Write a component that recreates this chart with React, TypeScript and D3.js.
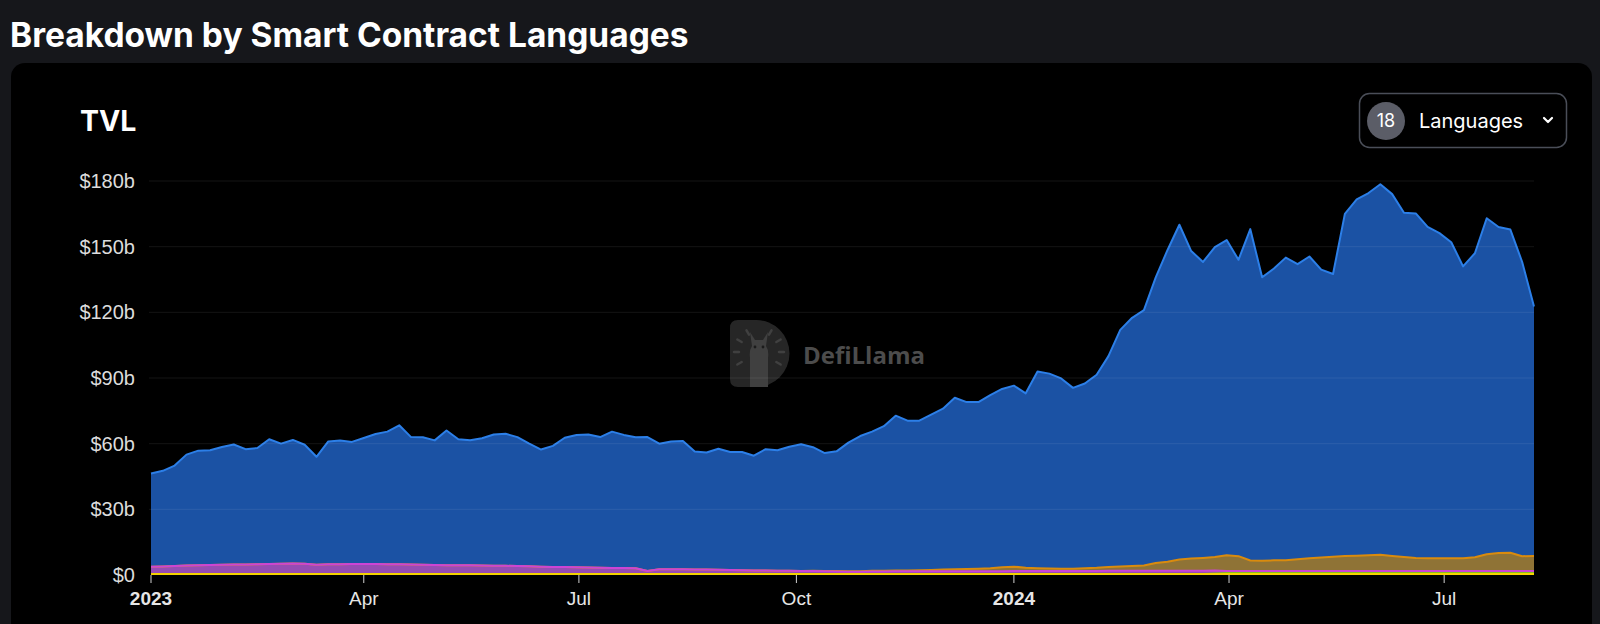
import * as d3 from "d3";
import React from "react";

// TVL by smart contract language, $b, one reading every 5 days from 2023-01-01
const startDate = "2023-01-01";
const stepDays = 5;

const solidity = [
  42.6, 43.7, 45.9, 50.7, 52.3, 52.4, 53.8, 54.8, 52.7, 53.1,
  57.0, 54.9, 56.5, 54.4, 49.3, 56.1, 56.5, 55.8, 57.6, 59.4,
  60.6, 63.5, 58.2, 58.2, 56.9, 61.5, 57.5, 57.2, 58.2, 60.0,
  60.3, 58.9, 56.0, 53.5, 55.3, 59.1, 60.5, 60.8, 59.7, 62.3,
  60.8, 59.8, 61.2, 57.4, 58.4, 58.6, 53.9, 53.5, 55.3, 53.9,
  54.0, 52.4, 55.5, 55.1, 56.7, 57.9, 56.5, 53.9, 54.7, 58.8,
  61.8, 63.6, 66.1, 70.7, 68.4, 68.3, 71.0, 73.5, 78.4, 76.3,
  76.1, 79.1, 81.5, 82.7, 79.7, 89.9, 89.0, 86.9, 82.6, 84.4,
  88.2, 96.3, 108.1, 113.4, 116.7, 130.5, 142.4, 152.9, 140.5, 135.2,
  141.6, 144.0, 135.4, 151.4, 129.5, 133.3, 138.3, 134.8, 137.9, 131.5,
  129.2, 156.3, 162.8, 165.5, 169.3, 165.3, 157.3, 157.4, 151.4, 148.6,
  144.3, 133.4, 138.9, 153.5, 149.0, 147.6, 134.4, 114.0,
];

const rust = [
  0, 0, 0, 0, 0, 0, 0, 0, 0, 0,
  0, 0, 0, 0, 0, 0, 0, 0, 0, 0,
  0, 0, 0, 0, 0, 0, 0, 0, 0, 0,
  0, 0, 0, 0, 0, 0, 0, 0, 0, 0,
  0, 0, 0, 0, 0, 0, 0, 0, 0, 0,
  0, 0, 0, 0, 0, 0, 0.1, 0.1, 0.2, 0.2,
  0.2, 0.3, 0.3, 0.4, 0.4, 0.5, 0.6, 0.8, 0.9, 1.0,
  1.2, 1.4, 1.8, 2.0, 1.5, 1.3, 1.2, 1.1, 1.1, 1.3,
  1.5, 1.8, 2.0, 2.2, 2.4, 3.6, 4.2, 5.2, 5.6, 5.9,
  6.2, 7.2, 6.8, 4.8, 4.7, 4.9, 4.9, 5.4, 5.8, 6.2,
  6.5, 6.9, 7.0, 7.2, 7.4, 6.9, 6.4, 6.0, 5.8, 5.8,
  5.9, 5.8, 6.3, 7.7, 8.2, 8.4, 6.8, 6.9,
];

const vyper = [
  3.3, 3.4, 3.6, 3.8, 4.0, 4.1, 4.2, 4.3, 4.3, 4.4,
  4.5, 4.6, 4.7, 4.6, 4.2, 4.4, 4.4, 4.5, 4.5, 4.5,
  4.4, 4.4, 4.3, 4.2, 4.1, 4.0, 4.0, 3.9, 3.8, 3.7,
  3.7, 3.6, 3.5, 3.3, 3.2, 3.1, 3.0, 2.9, 2.8, 2.7,
  2.7, 2.6, 1.3, 2.1, 2.1, 2.1, 2.0, 2.0, 1.9, 1.8,
  1.7, 1.6, 1.5, 1.4, 1.4, 1.3, 1.3, 1.2, 1.1, 1.0,
  1.0, 1.1, 1.1, 1.2, 1.2, 1.2, 1.2, 1.2, 1.2, 1.2,
  1.2, 1.2, 1.2, 1.3, 1.3, 1.3, 1.3, 1.3, 1.3, 1.3,
  1.3, 1.4, 1.4, 1.4, 1.4, 1.4, 1.4, 1.4, 1.4, 1.4,
  1.3, 0.9, 0.9, 0.9, 0.9, 0.9, 0.9, 0.9, 0.9, 0.9,
  0.9, 0.9, 0.9, 0.9, 0.9, 0.9, 0.9, 0.9, 0.9, 0.9,
  0.9, 0.9, 0.9, 0.9, 0.9, 0.9, 0.9, 0.9,
];

const move = [
  0, 0, 0, 0, 0, 0, 0, 0, 0, 0,
  0, 0, 0, 0, 0, 0, 0, 0, 0, 0,
  0, 0, 0, 0, 0, 0, 0, 0, 0, 0,
  0, 0, 0, 0, 0, 0, 0, 0, 0, 0,
  0, 0, 0, 0, 0, 0, 0, 0, 0, 0,
  0, 0, 0, 0, 0, 0, 0, 0, 0, 0,
  0, 0, 0, 0, 0, 0, 0, 0, 0, 0,
  0, 0, 0, 0, 0, 0, 0, 0, 0, 0,
  0, 0, 0, 0, 0, 0, 0, 0, 0, 0,
  0.2, 0.4, 0.4, 0.4, 0.4, 0.4, 0.4, 0.4, 0.4, 0.4,
  0.4, 0.4, 0.4, 0.4, 0.4, 0.4, 0.4, 0.4, 0.4, 0.4,
  0.4, 0.4, 0.4, 0.4, 0.4, 0.4, 0.4, 0.4,
];

const goLang = [
  0.5, 0.5, 0.5, 0.5, 0.5, 0.5, 0.5, 0.5, 0.5, 0.5,
  0.5, 0.5, 0.5, 0.5, 0.5, 0.5, 0.5, 0.5, 0.5, 0.5,
  0.5, 0.5, 0.5, 0.5, 0.5, 0.5, 0.5, 0.5, 0.5, 0.5,
  0.5, 0.5, 0.5, 0.5, 0.5, 0.5, 0.5, 0.5, 0.5, 0.5,
  0.5, 0.5, 0.5, 0.5, 0.5, 0.5, 0.5, 0.5, 0.5, 0.5,
  0.5, 0.5, 0.5, 0.5, 0.5, 0.5, 0.5, 0.5, 0.5, 0.5,
  0.5, 0.5, 0.5, 0.5, 0.5, 0.5, 0.5, 0.5, 0.5, 0.5,
  0.5, 0.5, 0.5, 0.5, 0.5, 0.5, 0.5, 0.5, 0.5, 0.5,
  0.5, 0.5, 0.5, 0.5, 0.5, 0.5, 0.5, 0.5, 0.5, 0.5,
  0.5, 0.5, 0.5, 0.5, 0.5, 0.5, 0.5, 0.5, 0.5, 0.5,
  0.5, 0.5, 0.5, 0.5, 0.5, 0.5, 0.5, 0.5, 0.5, 0.5,
  0.5, 0.5, 0.5, 0.5, 0.5, 0.5, 0.5, 0.5,
];

const languageKeys = ["Go", "Move", "Vyper", "Rust", "Solidity"];
const yTicks = [0, 30, 60, 90, 120, 150, 180];
const languageCount = 18;

const colors: Record<string, { fill: string; stroke: string }> = {
  Solidity: { fill: "#1b52a4", stroke: "#2c7fe8" },
  Rust: { fill: "#8f7336", stroke: "#d98b0e" },
  Vyper: { fill: "#964cb4", stroke: "#cc44d6" },
  Move: { fill: "#6a8a22", stroke: "#86c21c" },
  Go: { fill: "#c8aa08", stroke: "#f5d300" },
};

const uiFont = "Inter, 'Noto Sans', sans-serif";
const axisFont = "'Liberation Sans', Arial, sans-serif";

export default function App() {
  const width = 1600;
  const height = 624;
  const plot = { left: 151, right: 1534, top: 181, bottom: 575 };

  const dates = solidity.map((_, i) =>
    d3.utcDay.offset(new Date(startDate), i * stepDays)
  );
  const rows = dates.map((date, i) => ({
    date,
    Go: goLang[i],
    Move: move[i],
    Vyper: vyper[i],
    Rust: rust[i],
    Solidity: solidity[i],
  }));

  const stacked = d3.stack<any>().keys(languageKeys)(rows);

  const x = d3
    .scaleUtc()
    .domain(d3.extent(dates) as [Date, Date])
    .range([plot.left, plot.right]);
  const y = d3.scaleLinear().domain([0, 180]).range([plot.bottom, plot.top]);

  const area = d3
    .area<any>()
    .x((d) => x(d.data.date))
    .y0((d) => y(d[0]))
    .y1((d) => y(d[1]));
  const topLine = d3
    .line<any>()
    .x((d) => x(d.data.date))
    .y((d) => y(d[1]));

  const xTicks = x.ticks(d3.utcMonth.every(3) as any);

  return (
    <div style={{ position: "fixed", left: 0, top: 0 }}>
      <svg width={width} height={height} style={{ display: "block" }}>
        <rect width={width} height={height} fill="#16171b" />
        <text x={10} y={47} fill="#ffffff" fontFamily={uiFont} fontWeight={700} fontSize={33.5}>
          Breakdown by Smart Contract Languages
        </text>

        {/* card */}
        <rect x={11} y={63} width={1581} height={620} rx={14} fill="#000000" />
        <text x={80} y={131} fill="#ffffff" fontFamily={uiFont} fontWeight={700} fontSize={28.5}>
          TVL
        </text>

        {/* languages dropdown */}
        <rect x={1359.5} y={93.5} width={207} height={54} rx={10} fill="none" stroke="#4a4e58" strokeWidth={1.5} />
        <circle cx={1386} cy={121} r={19} fill="#5b5d67" />
        <text x={1386} y={127} textAnchor="middle" fill="#ffffff" fontFamily={uiFont} fontSize={18}>
          {languageCount}
        </text>
        <text x={1419} y={128} fill="#ffffff" fontFamily={uiFont} fontSize={20}>
          Languages
        </text>
        <path d="M1544,118 L1548,122 L1552,118" fill="none" stroke="#ffffff" strokeWidth={2.2} strokeLinecap="round" strokeLinejoin="round" />

        {/* watermark */}
        <g transform="translate(730,320)" opacity={0.9}>
          <path d="M0,8 Q0,0 8,0 H26 A33.5,33.5 0 0 1 26,67 H8 Q0,67 0,59 Z" fill="#2b2b2b" />
          <path d="M20,67 V38 Q19,30 22,26 L20,12 L25,20 H33 L38,12 L36,26 Q39,30 38,38 V67 Z" fill="#474747" />
          <circle cx={25} cy={27} r={1.4} fill="#1e1e1e" />
          <circle cx={33} cy={27} r={1.4} fill="#1e1e1e" />
          {[-150, -120, -60, -30, 180, 0, 150, 30].map((a) => {
            const r = (a * Math.PI) / 180;
            return (
              <line key={a} x1={29 + Math.cos(r) * 20} y1={32 + Math.sin(r) * 20}
                x2={29 + Math.cos(r) * 25} y2={32 + Math.sin(r) * 25}
                stroke="#474747" strokeWidth={2.5} strokeLinecap="round" />
            );
          })}
        </g>
        <text x={803} y={364} fill="#4c4c4c" fontFamily="'Open Sans', sans-serif" fontWeight={700} fontSize={24}>
          DefiLlama
        </text>

        {/* stacked areas */}
        {stacked.map((s) => (
          <path key={s.key} d={area(s) ?? ""} fill={colors[s.key].fill} />
        ))}
        {/* top lines, drawn top series first so lower lines stay visible where they coincide */}
        {[...stacked].reverse().map((s) => (
          <path key={s.key + "-line"} d={topLine(s) ?? ""} fill="none" stroke={colors[s.key].stroke}
            strokeWidth={2} strokeLinejoin="round" />
        ))}

        {/* y grid + labels */}
        {yTicks.map((t) => (
          <g key={t}>
            {t > 0 && (
              <line x1={149} x2={plot.right} y1={y(t)} y2={y(t)} stroke="#ffffff" strokeOpacity={0.08} />
            )}
            <text x={135} y={y(t)} dy="0.35em" textAnchor="end" fill="#dcdcdc" fontFamily={axisFont} fontSize={20}>
              {`$${t}${t === 0 ? "" : "b"}`}
            </text>
          </g>
        ))}

        {/* x axis */}
        {xTicks.map((t) => {
          const isYear = t.getUTCMonth() === 0;
          return (
            <g key={t.toISOString()} transform={`translate(${x(t)},0)`}>
              <line y1={plot.bottom} y2={plot.bottom + 8} stroke="#d0d0d0" />
              <text y={605} textAnchor="middle" fill="#e6e6e6" fontFamily={axisFont} fontSize={19}
                fontWeight={isYear ? 700 : 400}>
                {isYear ? d3.utcFormat("%Y")(t) : d3.utcFormat("%b")(t)}
              </text>
            </g>
          );
        })}
      </svg>
    </div>
  );
}
